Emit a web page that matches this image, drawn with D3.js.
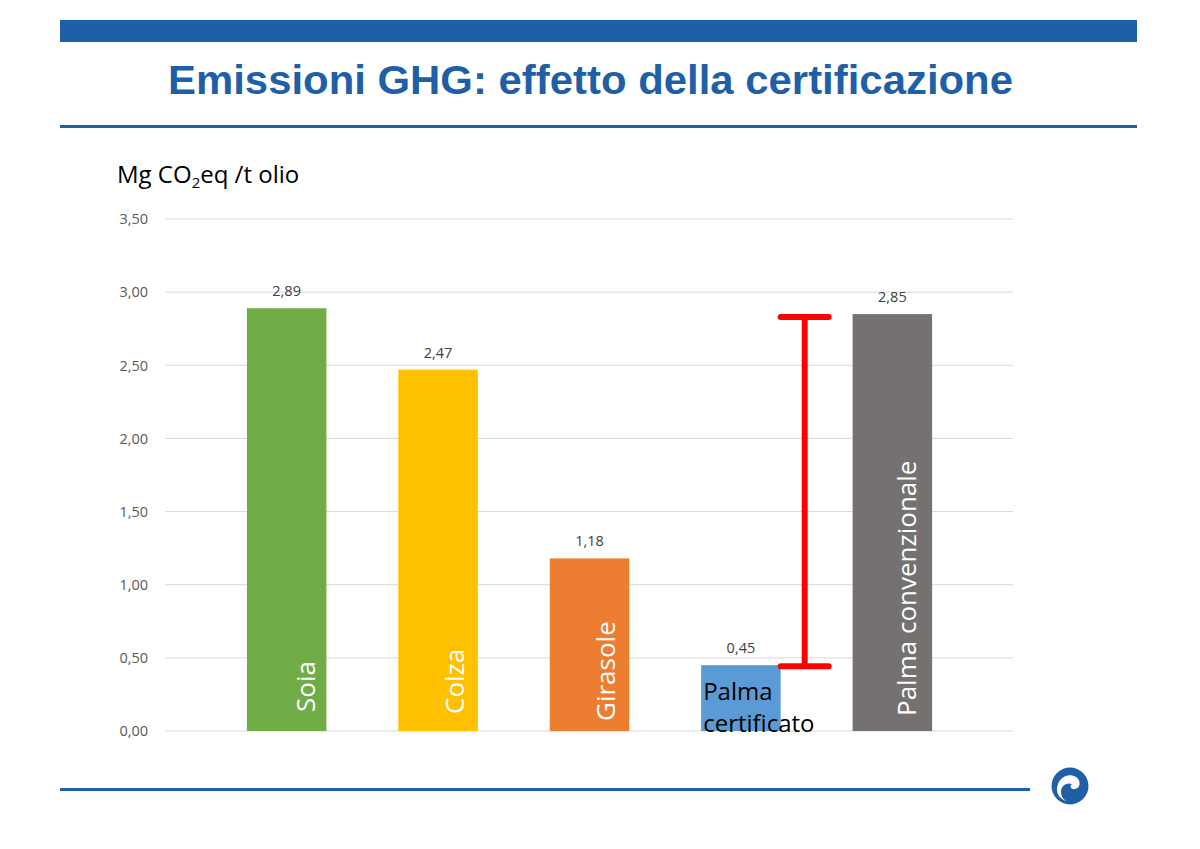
<!DOCTYPE html>
<html><head><meta charset="utf-8">
<script src="https://cdn.jsdelivr.net/npm/d3@7"></script>
<style>body{margin:0;background:#fff}svg{display:block}</style>
</head><body>
<svg id="c" width="1200" height="849"></svg>
<script>
const categories = ["Soia", "Colza", "Girasole", "Palma certificato", "Palma convenzionale"];
const values = [2.89, 2.47, 1.18, 0.45, 2.85];
const colors = ["#70AD47", "#FFC000", "#ED7D31", "#5B9BD5", "#767171"];
const yTicks = [0, 0.5, 1, 1.5, 2, 2.5, 3, 3.5];
const rangeBar = [0.45, 2.85]; // red range bar between certified and conventional palm

const svg = d3.select("#c");
const blue = "#1F5FA8";
const fmt = v => d3.format(".2f")(v).replace(".", ",");

// header
svg.append("rect").attr("x", 60).attr("y", 20).attr("width", 1077).attr("height", 22).attr("fill", blue);
svg.append("text").attr("x", 168).attr("y", 94)
  .attr("font-family", "Liberation Sans, Arial, sans-serif").attr("font-weight", "bold")
  .attr("font-size", 40).attr("fill", blue)
  .attr("textLength", 845).attr("lengthAdjust", "spacingAndGlyphs")
  .text("Emissioni GHG: effetto della certificazione");
svg.append("rect").attr("x", 60).attr("y", 125).attr("width", 1077).attr("height", 3).attr("fill", blue);
// footer
svg.append("rect").attr("x", 60).attr("y", 788).attr("width", 970).attr("height", 3).attr("fill", blue);
const logo = svg.append("g").attr("transform", "translate(1070,786)");
logo.append("circle").attr("r", 18.5).attr("fill", blue);
logo.append("path").attr("fill", "#fff")
  .attr("d", "M-13,4 C-13,-8 -2,-14 6,-9 C11,-6 11,2 5,3 C1,4 -1,0 2,-2 C-4,-4 -9,0 -9,6 C-9,10 -7,13 -4,15 C-9,13 -13,9 -13,4 Z");

// axis title
const yt = svg.append("text").attr("x", 117).attr("y", 183)
  .attr("font-family", "Open Sans, sans-serif").attr("font-size", 24).attr("fill", "#000");
yt.append("tspan").text("Mg CO");
yt.append("tspan").attr("font-size", 15).attr("dy", 5).text("2");
yt.append("tspan").attr("dy", -5).text("eq /t olio");

const y = d3.scaleLinear().domain([0, 3.5]).range([731, 219]);
const x = d3.scaleBand().domain(categories).range([211, 968]).paddingInner(0.475).paddingOuter(0.237);

// grid
svg.append("g").selectAll("line").data(yTicks).join("line")
  .attr("x1", 165).attr("x2", 1013).attr("y1", d => y(d)).attr("y2", d => y(d))
  .attr("stroke", "#D9D9D9").attr("stroke-width", 1);
svg.append("g").selectAll("text").data(yTicks).join("text")
  .attr("x", 148).attr("y", d => y(d)).attr("dy", "0.36em").attr("text-anchor", "end")
  .attr("font-family", "Open Sans, sans-serif").attr("font-size", 14.5).attr("fill", "#595959")
  .text(fmt);

// bars
svg.append("g").selectAll("rect").data(categories).join("rect")
  .attr("x", d => x(d)).attr("width", x.bandwidth())
  .attr("y", (d, i) => y(values[i])).attr("height", (d, i) => y(0) - y(values[i]))
  .attr("fill", (d, i) => colors[i]);

// value labels
svg.append("g").selectAll("text").data(categories).join("text")
  .attr("x", d => x(d) + x.bandwidth() / 2).attr("y", (d, i) => y(values[i]) - 12)
  .attr("text-anchor", "middle").attr("font-family", "Open Sans, sans-serif")
  .attr("font-size", 14.5).attr("fill", "#404040").text((d, i) => fmt(values[i]));

// vertical labels in bars
const vert = categories.filter(c => c !== "Palma certificato");
const labelLift = {"Soia": 19, "Colza": 17, "Girasole": 10, "Palma convenzionale": 15};
const labelShift = {"Soia": 28, "Colza": 26, "Girasole": 25, "Palma convenzionale": 24};
svg.append("g").selectAll("text").data(vert).join("text")
  .attr("transform", d => `translate(${x(d) + x.bandwidth() / 2 + labelShift[d]},${y(0) - labelLift[d]}) rotate(-90)`)
  .attr("font-family", "Open Sans, sans-serif").attr("font-size", 26).attr("fill", "#fff")
  .text(d => d);

// Palma certificato label (horizontal, two lines)
const pc = svg.append("text").attr("x", x("Palma certificato") + 2).attr("y", 700)
  .attr("font-family", "Open Sans, sans-serif").attr("font-size", 24).attr("fill", "#000");
pc.append("tspan").text("Palma");
pc.append("tspan").attr("x", x("Palma certificato") + 2).attr("dy", 32).text("certificato");

// red range bar
const rx = x("Palma certificato") + x.bandwidth() + 24;
const rg = svg.append("g").attr("stroke", "#FF0000").attr("stroke-width", 6).attr("fill", "none");
rg.append("line").attr("x1", rx).attr("x2", rx).attr("y1", y(rangeBar[1]) + 2).attr("y2", y(rangeBar[0]) - 1);
rangeBar.forEach((v, i) => {
  const yy = i === 0 ? y(v) + 1 : y(v) + 3;
  rg.append("line").attr("x1", rx - 24).attr("x2", rx + 24).attr("y1", yy).attr("y2", yy).attr("stroke-linecap", "round");
});
</script>
</body></html>
